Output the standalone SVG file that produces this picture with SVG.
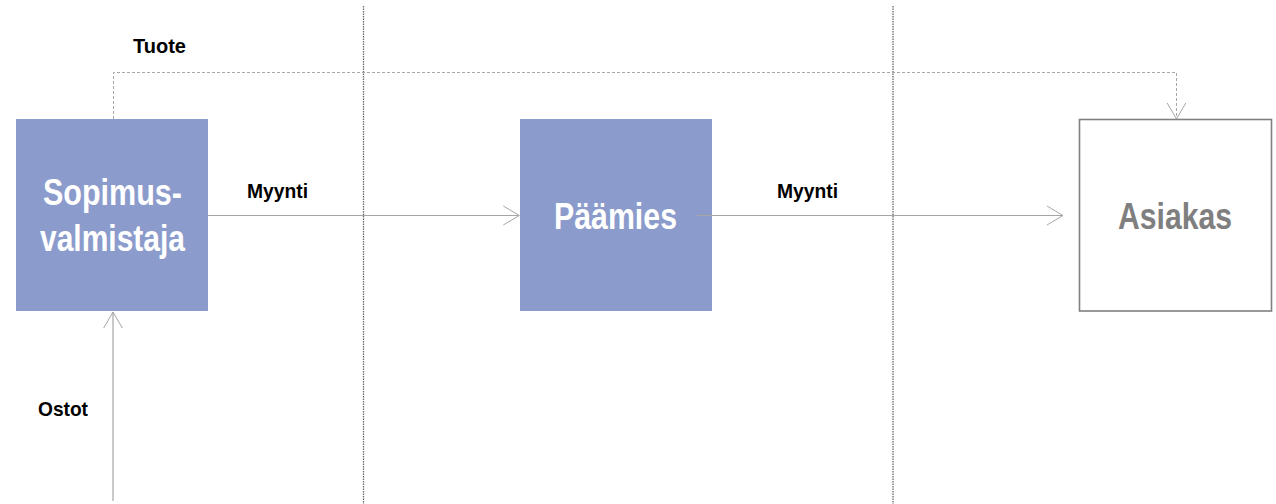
<svg xmlns="http://www.w3.org/2000/svg" width="1276" height="504" viewBox="0 0 1276 504">
<style>
.sep{stroke:#6a6a6a;stroke-width:1.3;stroke-dasharray:1.5 1;fill:none}
.conn{stroke:#a6a6a6;stroke-width:1.2;fill:none}
.dash{stroke:#a6a6a6;stroke-width:1;stroke-dasharray:3 2;fill:none}
.head{stroke:#a6a6a6;stroke-width:1;fill:none}
.lbl{font-family:"Liberation Sans",Arial,sans-serif;font-weight:bold;font-size:21px;fill:#000}
.big{font-family:"Liberation Sans",Arial,sans-serif;font-weight:bold;font-size:36px}
.blue{fill:#8b9bcb}
</style>
<rect width="1276" height="504" fill="#fff"/>
<g id="separators">
<line class="sep" x1="363.5" y1="6" x2="363.5" y2="504"/>
<line class="sep" x1="893" y1="6" x2="893" y2="504"/>
</g>
<g id="connectors">
<polyline class="dash" points="113.5,119 113.5,72.5 1176.5,72.5 1176.5,118"/>
<polyline class="head" points="1167.2,103 1176.5,119 1185.8,103"/>
<line class="conn" x1="208" y1="215.5" x2="519" y2="215.5"/>
<polyline class="head" points="503.3,206 519.3,215.5 503.3,225"/>
<line class="conn" x1="697" y1="215.5" x2="1063" y2="215.5"/>
<polyline class="head" points="1047,206 1063,215.5 1047,225"/>
<line class="conn" x1="113" y1="501" x2="113" y2="312"/>
<polyline class="head" points="103.7,328 113,312 122.3,328"/>
</g>
<g id="node-sopimusvalmistaja">
<rect class="blue" x="16" y="119" width="192" height="192"/>
<text class="big" fill="#fff" text-anchor="middle" x="112.5" y="205" textLength="139" lengthAdjust="spacingAndGlyphs">Sopimus-</text>
<text class="big" fill="#fff" text-anchor="middle" x="112.5" y="251" textLength="145" lengthAdjust="spacingAndGlyphs">valmistaja</text>
</g>
<g id="node-paamies">
<rect class="blue" x="520" y="119" width="192" height="192"/>
<line class="conn" x1="697" y1="215.5" x2="712" y2="215.5"/>
<text class="big" fill="#fff" text-anchor="middle" x="615.5" y="229" textLength="123" lengthAdjust="spacingAndGlyphs">Päämies</text>
</g>
<g id="node-asiakas">
<rect x="1079.5" y="119.5" width="192" height="191.5" fill="#fff" stroke="#808080" stroke-width="1.6"/>
<text class="big" fill="#7f7f7f" text-anchor="middle" x="1175" y="229" textLength="114" lengthAdjust="spacingAndGlyphs">Asiakas</text>
</g>
<g id="labels">
<text class="lbl" text-anchor="middle" x="159.5" y="53" textLength="53" lengthAdjust="spacingAndGlyphs">Tuote</text>
<text class="lbl" text-anchor="middle" x="277.5" y="198" textLength="61" lengthAdjust="spacingAndGlyphs">Myynti</text>
<text class="lbl" text-anchor="middle" x="807.5" y="198" textLength="61" lengthAdjust="spacingAndGlyphs">Myynti</text>
<text class="lbl" text-anchor="middle" x="63" y="416" textLength="50" lengthAdjust="spacingAndGlyphs">Ostot</text>
</g>
</svg>
